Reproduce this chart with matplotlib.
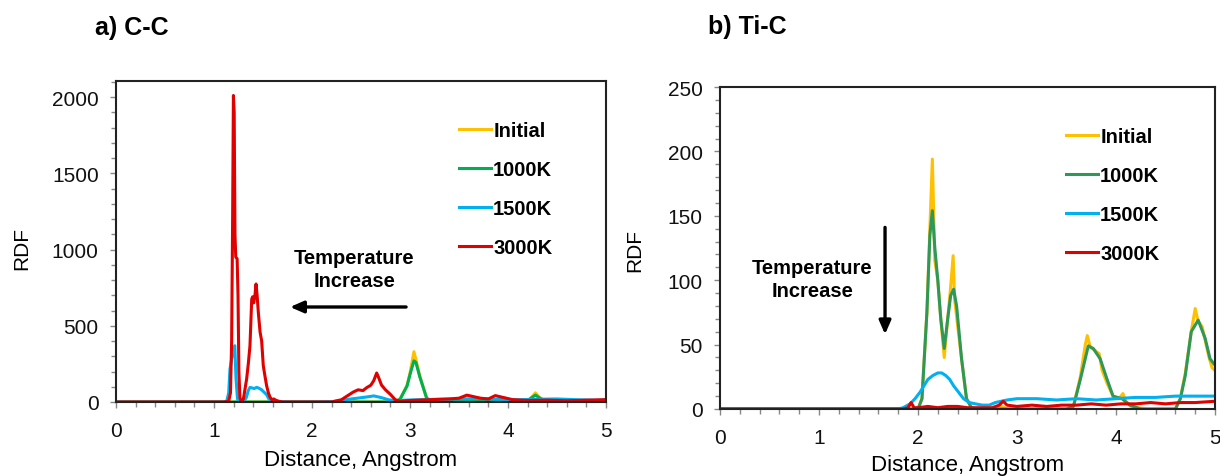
import matplotlib
matplotlib.use("Agg")
import matplotlib.pyplot as plt
from matplotlib.ticker import MultipleLocator

plt.rcParams['font.family'] = ['Liberation Sans', 'DejaVu Sans']

# ---------------- Data: a) C-C ----------------
cc_init_x = [0, 1.0, 1.5, 2.0, 2.5, 2.85, 2.9, 2.97, 3.0, 3.04, 3.06, 3.1, 3.17, 3.22, 3.3,
             3.5, 3.6, 3.7, 3.9, 4.1, 4.2, 4.24, 4.28, 4.32, 4.38, 4.5, 4.8, 5.0]
cc_init_y = [0, 0, 0, 0, 0, 0, 20, 110, 190, 330, 280, 170, 25, 5, 0,
             5, 10, 8, 5, 3, 8, 30, 60, 30, 5, 2, 2, 2]
cc_1000_x = cc_init_x
cc_1000_y = [0, 0, 0, 0, 0, 0, 20, 105, 180, 270, 260, 165, 25, 5, 0,
             5, 10, 8, 5, 3, 8, 28, 45, 28, 5, 2, 2, 2]
cc_1500_x = [0, 1.1, 1.13, 1.15, 1.163, 1.18, 1.2, 1.212, 1.225, 1.24, 1.26, 1.3, 1.33, 1.35,
             1.367, 1.39, 1.41, 1.435, 1.46, 1.486, 1.51, 1.537, 1.56, 1.6, 1.65, 1.75, 2.0,
             2.2, 2.3, 2.4, 2.5, 2.58, 2.63, 2.7, 2.78, 2.85, 2.95, 3.1, 3.3, 3.5, 3.7, 3.9,
             4.1, 4.3, 4.5, 4.7, 4.9, 5.0]
cc_1500_y = [0, 0, 5, 60, 216, 280, 350, 369, 150, 20, 3, 0, 30, 75,
             96, 92, 88, 96, 90, 80, 65, 48, 20, 8, 3, 0, 0,
             2, 10, 20, 28, 35, 40, 30, 15, 8, 12, 15, 18, 20, 22, 18,
             15, 18, 20, 15, 12, 15]
cc_3000_x = [0, 1.10, 1.15, 1.168, 1.18, 1.19, 1.198, 1.206, 1.214, 1.222, 1.236, 1.245,
             1.254, 1.264, 1.28, 1.30, 1.333, 1.35, 1.367, 1.385, 1.394, 1.405, 1.418, 1.429,
             1.44, 1.452, 1.47, 1.486, 1.503, 1.52, 1.537, 1.555, 1.571, 1.59, 1.61, 1.63,
             1.66, 1.70, 2.0, 2.2, 2.3, 2.36, 2.42, 2.47, 2.52, 2.56, 2.6, 2.63, 2.66,
             2.68, 2.71, 2.75, 2.8, 2.85, 2.9, 3.0, 3.2, 3.4, 3.5, 3.58, 3.65, 3.72, 3.8,
             3.87, 3.95, 4.05, 4.2, 4.4, 4.6, 4.8, 5.0]
cc_3000_y = [0, 0, 5, 60, 400, 1200, 2010, 1900, 1100, 950, 940, 700,
             200, 30, 0, 20, 151, 250, 369, 675, 690, 650, 700, 774,
             700, 590, 459, 402, 238, 170, 107, 60, 33, 15, 20, 12,
             5, 0, 0, 0, 15, 40, 65, 80, 75, 95, 110, 140, 190,
             160, 110, 80, 50, 15, 5, 10, 15, 20, 25, 45, 35, 25, 20,
             42, 30, 15, 10, 12, 8, 12, 15]

# ---------------- Data: b) Ti-C ----------------
tic_init_x = [0, 1.9, 2.0, 2.04, 2.09, 2.12, 2.145, 2.17, 2.2, 2.23, 2.265, 2.3, 2.33, 2.355,
              2.37, 2.4, 2.44, 2.49, 2.54, 2.6, 2.8, 2.85, 2.9, 3.2, 3.5, 3.57, 3.64, 3.69,
              3.71, 3.74, 3.78, 3.81, 3.83, 3.86, 3.91, 3.97, 4.03, 4.07, 4.1, 4.15, 4.3,
              4.6, 4.65, 4.7, 4.76, 4.8, 4.83, 4.87, 4.91, 4.94, 4.97, 5.0]
tic_init_y = [0, 0, 0, 8, 75, 140, 194, 115, 100, 70, 40, 70, 95, 119,
              85, 65, 39, 8, 1, 0, 0, 2, 0, 0, 0, 2, 25, 50,
              57, 48, 46, 44, 43, 30, 20, 10, 8, 12, 6, 2, 0,
              0, 8, 28, 60, 78, 68, 64, 50, 40, 32, 30]
tic_1000_x = [0, 1.9, 2.0, 2.04, 2.09, 2.12, 2.145, 2.17, 2.2, 2.23, 2.265, 2.3, 2.33, 2.36,
              2.39, 2.44, 2.49, 2.54, 2.6, 3.2, 3.5, 3.57, 3.64, 3.72, 3.77, 3.84, 3.91,
              3.97, 4.06, 4.14, 4.25, 4.6, 4.65, 4.7, 4.76, 4.83, 4.9, 4.95, 5.0]
tic_1000_y = [0, 0, 0, 8, 75, 135, 154, 125, 100, 70, 47, 70, 88, 93,
              80, 39, 8, 1, 0, 0, 0, 2, 23, 49, 47, 39, 23,
              10, 8, 3, 0, 0, 8, 26, 60, 69, 55, 39, 34]
tic_1500_x = [0, 1.8, 1.85, 1.92, 1.97, 2.02, 2.06, 2.1, 2.15, 2.2, 2.24, 2.28, 2.32, 2.36,
              2.4, 2.46, 2.52, 2.58, 2.65, 2.72, 2.78, 2.84, 2.9, 3.0, 3.2, 3.4, 3.6, 3.8,
              4.0, 4.2, 4.4, 4.6, 4.8, 5.0]
tic_1500_y = [0, 0, 1, 4, 8, 13, 18, 23, 26, 28, 28, 26, 23, 18,
              14, 8, 5, 4, 3, 3, 5, 6, 7, 8, 8, 7, 8, 7,
              8, 9, 9, 10, 10, 10]
tic_3000_x = [0, 1.85, 1.9, 1.93, 1.96, 2.0, 2.1, 2.2, 2.3, 2.4, 2.5, 2.6, 2.75, 2.82, 2.86,
              2.9, 3.0, 3.15, 3.3, 3.45, 3.6, 3.75, 3.9, 4.05, 4.2, 4.35, 4.5, 4.65, 4.8, 5.0]
tic_3000_y = [0, 0, 1, 5, 1, 1, 2, 1, 2, 2, 1, 1, 1, 3, 6,
              3, 2, 3, 2, 3, 3, 4, 3, 4, 4, 5, 4, 5, 5, 6]

series_labels = ['Initial', '1000K', '1500K', '3000K']
colors_a = ['#FFC000', '#00B050', '#00B0F0', '#E00000']
colors_b = ['#FFC000', '#2E9858', '#00B0F0', '#E00000']

W, H = 1220, 477
fig = plt.figure(figsize=(W / 100, H / 100), dpi=100)

ax1 = fig.add_axes([116 / W, (H - 403) / H, 490 / W, 321 / H])
ax2 = fig.add_axes([720 / W, (H - 410) / H, 495 / W, 322 / H])

lw = 2.2
for x, y, c, lab in zip([cc_init_x, cc_1000_x, cc_1500_x, cc_3000_x],
                        [cc_init_y, cc_1000_y, cc_1500_y, cc_3000_y],
                        colors_a, series_labels):
    ax1.plot(x, y, color=c, lw=lw, label=lab, solid_joinstyle='round')
for x, y, c, lab in zip([tic_init_x, tic_1000_x, tic_1500_x, tic_3000_x],
                        [tic_init_y, tic_1000_y, tic_1500_y, tic_3000_y],
                        colors_b, series_labels):
    ax2.plot(x, y, color=c, lw=lw, label=lab, solid_joinstyle='round')

ax1.set_xlim(0, 5)
ax1.set_ylim(0, 2105)
ax1.yaxis.set_major_locator(MultipleLocator(500))
ax1.yaxis.set_minor_locator(MultipleLocator(100))
ax2.set_xlim(0, 5)
ax2.set_ylim(0, 250)
ax2.yaxis.set_major_locator(MultipleLocator(50))
ax2.yaxis.set_minor_locator(MultipleLocator(10))

for ax in (ax1, ax2):
    ax.xaxis.set_major_locator(MultipleLocator(1))
    ax.xaxis.set_minor_locator(MultipleLocator(0.2))
    for s in ax.spines.values():
        s.set_color('#222222')
        s.set_linewidth(1.5)
    ax.tick_params(which='both', direction='out', color='#888888', width=1,
                   labelsize=15, labelcolor='#111111')
    ax.tick_params(which='major', length=4.5)
    ax.tick_params(which='minor', length=3.5)
    ax.tick_params(axis='y', which='major', pad=8)
    ax.tick_params(axis='x', which='major', pad=9)
    ax.legend(loc='upper left', frameon=False, handlelength=1.6, handletextpad=0.1,
              labelspacing=1.0, prop={'weight': 'bold', 'size': 14.5},
              borderaxespad=0, borderpad=0)

ax1.get_legend().set_bbox_to_anchor((459 / W, (H - 122) / H), transform=fig.transFigure)
ax2.get_legend().set_bbox_to_anchor((1066 / W, (H - 128) / H), transform=fig.transFigure)

arrow_style = dict(arrowstyle='-|>,head_length=0.8,head_width=0.35', color='black',
                   lw=2.4, shrinkA=0, shrinkB=0)
# Annotations
ax1.text(2.43, 870, 'Temperature\nIncrease', ha='center', va='center', fontsize=14.5,
         fontweight='bold', linespacing=1.25)
ax1.annotate('', xy=(1.776, 623), xytext=(2.96, 623), arrowprops=arrow_style)
ax2.text(0.93, 101, 'Temperature\nIncrease', ha='center', va='center', fontsize=14.5,
         fontweight='bold', linespacing=1.25)
ax2.annotate('', xy=(1.667, 58), xytext=(1.667, 141), arrowprops=arrow_style)

# Titles and axis labels
fig.text(95 / W, 1 - 28 / H, 'a) C-C', fontsize=18, fontweight='bold', ha='left', va='center')
fig.text(708 / W, 1 - 27 / H, 'b) Ti-C', fontsize=18, fontweight='bold', ha='left', va='center')
fig.text(22 / W, 1 - 249 / H, 'RDF', fontsize=15, rotation=90, ha='center', va='center')
fig.text(635 / W, 1 - 251 / H, 'RDF', fontsize=15, rotation=90, ha='center', va='center')
fig.text(361 / W, 1 - 461 / H, 'Distance, Angstrom', fontsize=16, ha='center', va='center')
fig.text(968 / W, 1 - 466 / H, 'Distance, Angstrom', fontsize=16, ha='center', va='center')

fig.savefig('out.png', dpi=100)
